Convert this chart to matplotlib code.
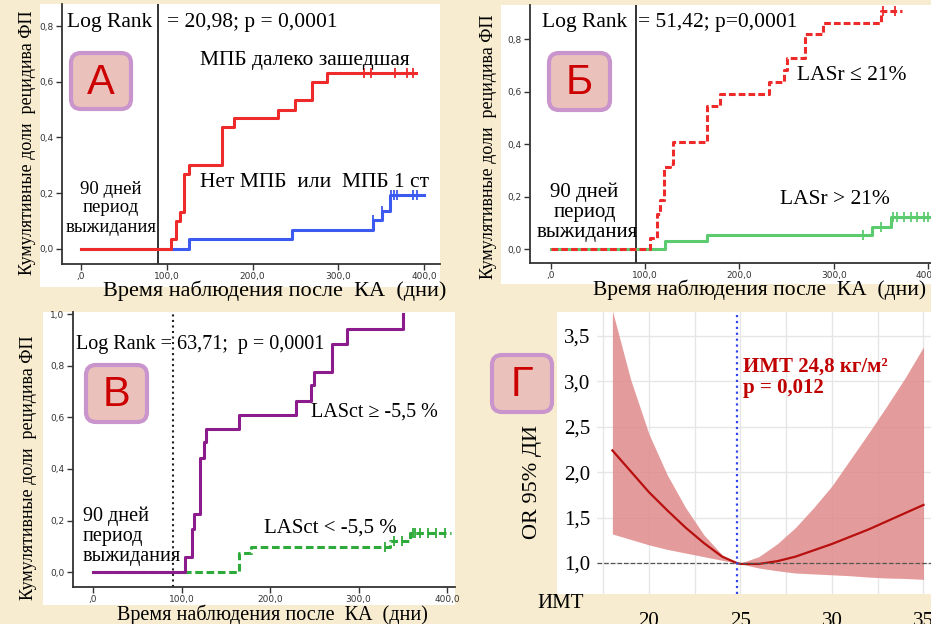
import numpy as np
import matplotlib.pyplot as plt
from matplotlib.patches import Rectangle, FancyBboxPatch

W, H = 931, 624
BG = '#F7ECCF'
SERIF = ['Liberation Serif', 'DejaVu Serif']
SANS = ['Liberation Sans', 'DejaVu Sans']

# --- Kaplan-Meier data (days, cumulative share of AF recurrence) ---
XT = [0, 100, 200, 300, 400]
XT_LABELS = [',0', '100,0', '200,0', '300,0', '400,0']

a_red_t = [0, 105, 111, 115, 120.6, 126, 164.6, 179, 229.6, 249, 269, 287, 391]
a_red_p = [0, 0.035, 0.10, 0.134, 0.27, 0.30, 0.436, 0.47, 0.50, 0.535, 0.60, 0.633, 0.633]
a_red_cens = [330, 338.5, 365.8, 380, 387]
a_blue_t = [0, 125.7, 246, 340, 350.5, 360, 400]
a_blue_p = [0, 0.035, 0.068, 0.104, 0.137, 0.194, 0.194]
a_blue_cens = [341, 351.5, 362, 365, 368, 387.5, 391.5]

b_red_t = [0, 104.7, 112.5, 115.3, 120.3, 126, 129, 165.5, 179.7, 231, 247, 250.4, 270, 288.6, 350.2, 372.5]
b_red_p = [0, 0.043, 0.135, 0.186, 0.313, 0.326, 0.409, 0.545, 0.59, 0.636, 0.683, 0.727, 0.819, 0.864, 0.908, 0.908]
b_red_cens = [352.3, 365.4]
b_green_t = [0, 121.3, 165.5, 340.3, 360.5, 405]
b_green_p = [0, 0.031, 0.054, 0.085, 0.123, 0.123]
b_green_cens = [330.8, 349.9, 363.3, 367.5, 374.6, 381.7, 388.1, 395.8, 400.4]

c_purple_t = [0, 103.6, 111.9, 114.5, 120.5, 125, 128, 165, 229.8, 246.7, 249.7, 270, 287, 350]
c_purple_p = [0, 0.057, 0.167, 0.224, 0.444, 0.503, 0.554, 0.609, 0.665, 0.726, 0.778, 0.886, 0.943, 1.0]
c_green_t = [0, 165, 178.5, 335.6, 358.2, 405]
c_green_p = [0, 0.072, 0.096, 0.12, 0.153, 0.153]
c_green_cens = [330, 340, 348.8, 361, 364, 369.5, 379, 388, 397.7]

# --- BMI / OR curve ---
bmi = [18, 19, 20, 21, 22, 23, 24, 24.8, 25, 26, 27, 28, 29, 30, 31, 32, 33, 34, 35]
or_mid = [2.24, 2.01, 1.78, 1.58, 1.39, 1.22, 1.07, 1.0, 0.99, 0.99, 1.02, 1.07, 1.14, 1.21, 1.29, 1.37, 1.46, 1.55, 1.64]
or_hi = [3.78, 3.02, 2.42, 1.97, 1.61, 1.31, 1.09, 1.0, 1.0, 1.07, 1.21, 1.39, 1.61, 1.85, 2.14, 2.43, 2.73, 3.04, 3.38]
or_lo = [1.32, 1.26, 1.20, 1.15, 1.11, 1.07, 1.03, 1.0, 0.99, 0.945, 0.915, 0.89, 0.88, 0.87, 0.86, 0.845, 0.835, 0.83, 0.82]
or_ticks = [1.0, 1.5, 2.0, 2.5, 3.0, 3.5]

fig = plt.figure(figsize=(W / 100, H / 100), dpi=100, facecolor=BG)


def fx(x):
    return x / W


def fy(y):
    return 1 - y / H


def add_ax(x0, y0, x1, y1):
    return fig.add_axes([x0 / W, 1 - y1 / H, (x1 - x0) / W, (y1 - y0) / H])


def white(x0, y0, x1, y1):
    fig.add_artist(Rectangle((x0 / 100, (H - y1) / 100), (x1 - x0) / 100, (y1 - y0) / 100,
                             transform=fig.dpi_scale_trans, fc='white', ec='none', zorder=-5))


def tag(x0, y0, x1, y1, letter):
    fig.add_artist(FancyBboxPatch((x0 / 100, (H - y1) / 100), (x1 - x0) / 100, (y1 - y0) / 100,
                                  boxstyle='round,pad=0,rounding_size=0.1',
                                  transform=fig.dpi_scale_trans, fc='#EBC1BB', ec='#C995CC',
                                  lw=3, zorder=5))
    fig.text(fx((x0 + x1) / 2), fy((y0 + y1) / 2 + 2), letter, ha='center', va='center',
             fontsize=30, color='#CC0000', family=SANS, zorder=6)


def txt(x, y, s, size=15.5, ha='left', **kw):
    fig.text(fx(x), fy(y), s, ha=ha, va='center', fontsize=size, family=SERIF, zorder=7, **kw)


def ylab(x, y, s, size=13):
    fig.text(fx(x), fy(y), s, rotation=90, ha='center', va='center', fontsize=size, family=SERIF)


def km_axes(box, xlim, ylim, yt):
    ax = add_ax(*box)
    ax.set_xlim(xlim)
    ax.set_ylim(ylim)
    for s in ['top', 'right']:
        ax.spines[s].set_visible(False)
    for s in ['left', 'bottom']:
        ax.spines[s].set_color('#333333')
        ax.spines[s].set_linewidth(1.3)
    ax.set_xticks(XT)
    ax.set_xticklabels(XT_LABELS)
    ax.set_yticks(yt)
    ax.set_yticklabels([f'{v:.1f}'.replace('.', ',') for v in yt])
    ax.tick_params(labelsize=6.5, colors='#333333', length=4, width=1, pad=2)
    ax.patch.set_alpha(0)
    return ax


def km(ax, t, p, color, cens=None, ls='-'):
    ax.step(t, p, where='post', color=color, lw=2.2, ls=ls)
    if cens:
        lev = [p[np.searchsorted(t, c, side='right') - 1] for c in cens]
        ax.plot(cens, lev, ls='none', marker='|', ms=7, mew=1.3, color=color)


# white panels
white(40, 4, 440, 287)
white(501, 5, 931, 284)
white(43, 312, 455, 605)
white(557, 312, 931, 594)

yt8 = [0, 0.2, 0.4, 0.6, 0.8]
wait = ['90 дней', 'период', 'выжидания']
xlab = 'Время наблюдения после  КА  (дни)'
ylab_km = 'Кумулятивные доли  рецидива ФП'

# ---- Panel A ----
ax = km_axes((62, 4, 440, 264), (-22.2, 418.7), (-0.054, 0.879), yt8)
ax.axvline(90, color='#222222', lw=1.3)
km(ax, a_blue_t, a_blue_p, '#3D5AF0', a_blue_cens)
km(ax, a_red_t, a_red_p, '#EE2A2A', a_red_cens)
txt(67, 22, 'Log Rank')
txt(167, 22, '= 20,98; p = 0,0001')
txt(200, 60, 'МПБ далеко зашедшая')
txt(200, 182, 'Нет МПБ  или  МПБ 1 ст')
for yy, s in zip([189, 208, 227], wait):
    txt(111, yy, s, size=13.5, ha='center')
txt(275, 291, xlab, size=16, ha='center')
ylab(28, 143, ylab_km)
tag(71, 53, 131, 109, 'А')

# ---- Panel B ----
ax = km_axes((530, 5, 931, 263), (-22.3, 403.3), (-0.053, 0.931), yt8)
ax.axvline(90, color='#222222', lw=1.3)
km(ax, b_green_t, b_green_p, '#5CCB6E', b_green_cens)
km(ax, b_red_t, b_red_p, '#EE2A2A', b_red_cens, ls=(0, (2.2, 1)))
txt(542, 23, 'Log Rank')
txt(638, 23, '= 51,42; p=0,0001')
txt(797, 76, 'LASr ≤ 21%')
txt(780, 200, 'LASr > 21%')
for yy, xx, s in zip([192, 213, 233], [584, 585, 587], wait):
    txt(xx, yy, s, size=15, ha='center')
txt(593, 290, xlab, size=15.5)
ylab(488, 147, ylab_km)
tag(549, 53, 610, 110, 'Б')

# ---- Panel C ----
ax = km_axes((73, 312, 455, 587), (-22.6, 409), (-0.058, 1.009), yt8 + [1.0])
ax.axvline(90, color='#222222', lw=1.5, ls=':')
km(ax, c_green_t, c_green_p, '#2EAA3A', c_green_cens, ls=(0, (2.5, 1.2)))
km(ax, c_purple_t, c_purple_p, '#8C1B8C')
txt(76, 344, 'Log Rank = 63,71;  p = 0,0001', size=14.5)
txt(311, 412, 'LASct ≥ -5,5 %', size=14.5)
txt(264, 528, 'LASct < -5,5 %', size=15)
for yy, s in zip([516, 537, 557], wait):
    txt(83, yy, s, size=14.5)
txt(272, 615, xlab, size=14.5, ha='center')
ylab(29, 468, ylab_km)
tag(86, 365, 147, 422, 'В')

# ---- Panel D ----
ax = add_ax(597, 312, 931, 594)
ax.set_xlim(17.16, 35.41)
ax.set_ylim(0.659, 3.764)
for s in ax.spines.values():
    s.set_visible(False)
ax.set_xticks([20, 25, 30, 35])
ax.set_xticks([17.5, 22.5, 27.5, 32.5], minor=True)
ax.set_yticks(or_ticks)
ax.set_yticklabels([f'{v:.1f}'.replace('.', ',') for v in or_ticks])
ax.tick_params(which='both', length=0)
ax.tick_params(axis='x', pad=13, labelsize=15)
ax.tick_params(axis='y', pad=5, labelsize=15)
for lab in ax.get_xticklabels() + ax.get_yticklabels():
    lab.set_family(SERIF)
ax.grid(True, which='both', axis='x', color='#E6E6E6', lw=1)
ax.grid(True, which='major', axis='y', color='#E6E6E6', lw=1)
ax.set_axisbelow(True)
ax.fill_between(bmi, or_lo, or_hi, color='#E08A8A', alpha=0.85, lw=0)
ax.plot(bmi, or_mid, color='#B80F0F', lw=1.6)
ax.axhline(1.0, color='#555555', ls='--', lw=0.9)
ax.axvline(24.8, color='#3344EE', ls=':', lw=1.6)
txt(743, 367, 'ИМТ 24,8 кг/м²', size=15, color='#C00000', weight='bold')
txt(743, 388, 'p = 0,012', size=15, color='#C00000', weight='bold')
txt(537, 603, 'ИМТ', size=15)
ylab(532, 482, 'OR 95% ДИ', size=16)
tag(492, 355, 552, 412, 'Г')

fig.savefig('out.png', dpi=100, facecolor=BG)
